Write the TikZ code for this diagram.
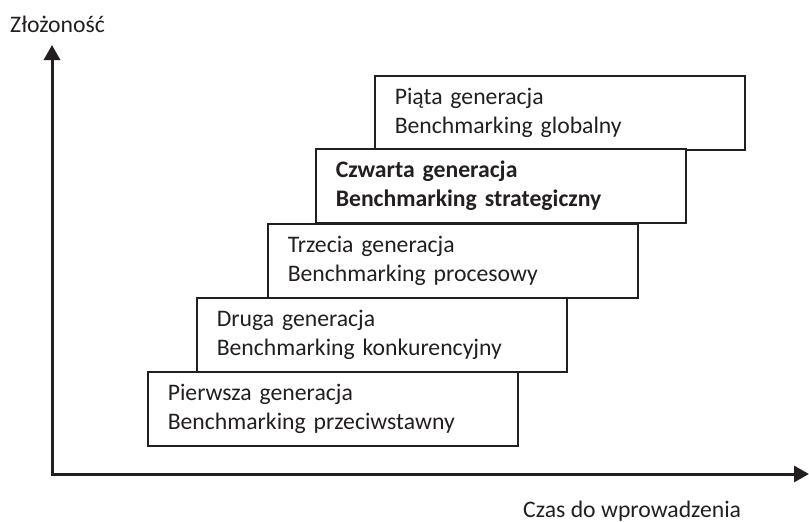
\documentclass[tikz,border=0pt]{standalone}
\usepackage{fontspec}
\setmainfont{Carlito}
\usetikzlibrary{arrows.meta}
\definecolor{linegray}{RGB}{35,31,32}

\begin{document}
\begin{tikzpicture}[x=1pt,y=-1pt,
 gen/.style={draw=linegray,line width=1.6pt,fill=white,anchor=north west,minimum height=74pt,text width=330pt,inner xsep=20pt,align=left,font=\fontsize{23.7}{29}\selectfont,text=linegray},
 axis/.style={draw=linegray,line width=3pt,{Triangle[length=15pt,width=16pt]}-{Triangle[length=15pt,width=16pt]}},
 lab/.style={anchor=base west,inner sep=0pt,font=\fontsize{23.7}{28}\selectfont,text=linegray}]
 \useasboundingbox (0,0) rectangle (809,522);
 \node[gen] (g5) at (374,75) {Piąta generacja\\Benchmarking globalny};
 \node[gen] (g4) at (315,148) {\bfseries Czwarta generacja\\\bfseries Benchmarking strategiczny};
 \node[gen] (g3) at (267,223) {Trzecia generacja\\Benchmarking procesowy};
 \node[gen] (g2) at (196,297) {Druga generacja\\Benchmarking konkurencyjny};
 \node[gen] (g1) at (147,371) {Pierwsza generacja\\Benchmarking przeciwstawny};
 \coordinate (ytop) at (52,45);
 \coordinate (xend) at (809,474);
 \draw[axis] (ytop) |- (xend);
 \node[lab] (ylab) at (10,32) {Złożoność};
 \node[lab] (xlab) at (523,517) {Czas do wprowadzenia};
\end{tikzpicture}
\end{document}
